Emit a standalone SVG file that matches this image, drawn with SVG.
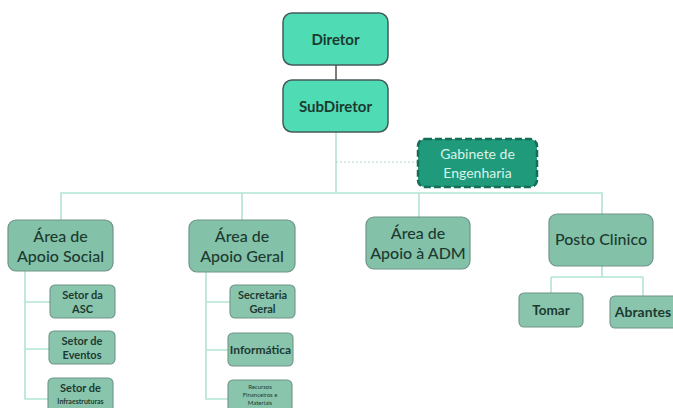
<svg xmlns="http://www.w3.org/2000/svg" width="673" height="408" viewBox="0 0 673 408">
<style>
.top{fill:#4fdcb4;stroke:#45595a;stroke-width:1.5}
.l2{fill:#83c2a9;stroke:#6f9488;stroke-width:1.2}
.l3{fill:#89c5ad;stroke:#6f9488;stroke-width:1.1}
.gab{fill:#1f9a7a;stroke:#176e58;stroke-width:2.5;stroke-dasharray:7 3}
text{font-family:Lato,"Open Sans","Liberation Sans",sans-serif;fill:#1d3a31;text-anchor:middle}
.t1{font-size:15px;font-weight:bold}
.t2{font-size:16px;font-weight:500}
.t3{font-size:11px;font-weight:bold}
.t4{font-size:6px}
.tg{font-size:14px;fill:#d9f2ea}
.c{fill:none;stroke:#b3e3d4;stroke-width:1.6}
</style>
<rect width="673" height="408" fill="#ffffff"/>
<g id="connectors">
<line x1="336" y1="65" x2="336" y2="80" stroke="#5a5a5a" stroke-width="1.6"/>
<path class="c" d="M336 132V193"/>
<path class="c" d="M61 220V193H602V214"/>
<path class="c" d="M242 193V220"/>
<path class="c" d="M419 193V217"/>
<line x1="336" y1="162" x2="418" y2="162" stroke="#a9dccb" stroke-width="1.2" stroke-dasharray="2 2"/>
<path class="c" d="M25 271V399H48M25 302H50M25 349H49"/>
<path class="c" d="M206 272V399H228M206 302H230M206 350H228"/>
<path class="c" d="M602 266V277M551 277H643M551 277V293M643 277V296"/>
</g>
<g id="diretor"><rect class="top" x="283" y="13" width="105" height="52" rx="9"/><text class="t1" x="335.5" y="45">Diretor</text></g>
<g id="subdiretor"><rect class="top" x="283" y="80" width="105" height="52" rx="9"/><text class="t1" x="335.5" y="112">SubDiretor</text></g>
<g id="gabinete"><rect class="gab" x="418" y="139" width="119" height="48" rx="7"/><text class="tg" x="477.5" y="159">Gabinete de</text><text class="tg" x="477.5" y="178">Engenharia</text></g>
<g id="apoio-social"><rect class="l2" x="8" y="220" width="105" height="51" rx="8"/><text class="t2" x="60.5" y="242">Área de</text><text class="t2" x="60.5" y="262">Apoio Social</text></g>
<g id="apoio-geral"><rect class="l2" x="189" y="220" width="106" height="52" rx="8"/><text class="t2" x="242" y="242">Área de</text><text class="t2" x="242" y="262">Apoio Geral</text></g>
<g id="apoio-adm"><rect class="l2" x="366" y="217" width="104" height="52" rx="8"/><text class="t2" x="418" y="239">Área de</text><text class="t2" x="418" y="259">Apoio à ADM</text></g>
<g id="posto-clinico"><rect class="l2" x="549" y="214" width="104" height="52" rx="8"/><text class="t2" x="601" y="245">Posto Clinico</text></g>
<g id="setor-asc"><rect class="l3" x="50" y="285" width="65" height="33" rx="5"/><text class="t3" x="82.5" y="299">Setor da</text><text class="t3" x="82.5" y="313">ASC</text></g>
<g id="setor-eventos"><rect class="l3" x="49" y="331" width="66" height="33" rx="5"/><text class="t3" x="82" y="345">Setor de</text><text class="t3" x="82" y="359">Eventos</text></g>
<g id="setor-infra"><rect class="l3" x="48" y="378" width="65" height="34" rx="5"/><text class="t3" x="80.5" y="392">Setor de</text><text class="t3" x="80.5" y="404" style="font-size:7px">Infraestruturas</text></g>
<g id="secretaria"><rect class="l3" x="230" y="285" width="65" height="33" rx="5"/><text class="t3" x="262.5" y="299">Secretaria</text><text class="t3" x="262.5" y="313">Geral</text></g>
<g id="informatica"><rect class="l3" x="228" y="333" width="65" height="33" rx="5"/><text class="t3" x="260.5" y="353.5" style="font-size:12px">Informática</text></g>
<g id="recursos"><rect class="l3" x="228" y="380" width="64" height="34" rx="5"/><text class="t4" x="260" y="389">Recursos</text><text class="t4" x="260" y="397">Financeiros e</text><text class="t4" x="260" y="405">Materiais</text></g>
<g id="tomar"><rect class="l3" x="519" y="293" width="64" height="34" rx="5"/><text class="t3" x="551" y="315" style="font-size:13.5px">Tomar</text></g>
<g id="abrantes"><rect class="l3" x="610" y="296" width="68" height="32" rx="5"/><text class="t3" x="643" y="317" style="font-size:14px">Abrantes</text></g>
</svg>
